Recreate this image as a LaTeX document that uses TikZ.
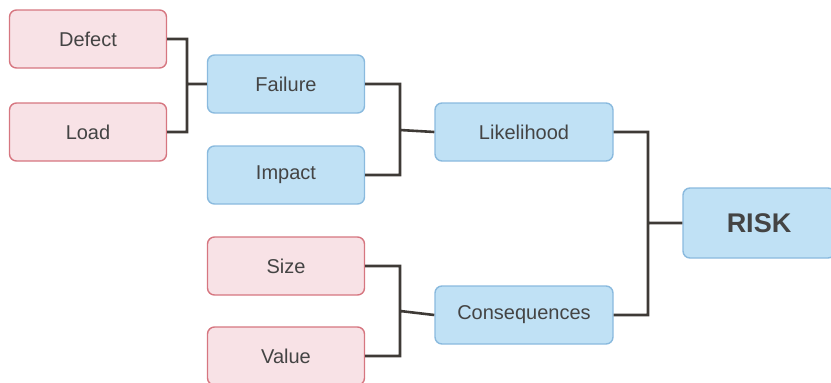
\documentclass[tikz,border=0pt]{standalone}
\usepackage{fontspec}
\setmainfont{Liberation Sans}
\usetikzlibrary{positioning}
\definecolor{causefill}{RGB}{248,226,230}
\definecolor{causeline}{RGB}{214,118,128}
\definecolor{effectfill}{RGB}{192,225,245}
\definecolor{effectline}{RGB}{138,186,222}
\definecolor{labelgray}{RGB}{68,68,68}
\definecolor{linkgray}{RGB}{62,58,54}
\begin{document}
\begin{tikzpicture}
        [x = 1pt, y = -1pt,
            semithick,
            cause node/.style = {rectangle, rounded corners=7pt, draw=causeline, fill=causefill,
                line width=1.4pt, minimum width=157pt, minimum height=58pt,
                text=labelgray, font=\fontsize{20}{24}\selectfont},
            effect node/.style = {cause node, draw=effectline, fill=effectfill},
            link/.style = {draw=linkgray, line width=2.6pt}]

        \useasboundingbox (0,0) rectangle (831,383);

        % left column
        \node[cause node] (defect) at (88,39) {Defect};
        \node[cause node] (load) at (88,132) {Load};
        \node[effect node] (failure) at (286,84) {Failure};
        \node[effect node] (impact) at (286,175) {Impact};
        \node[cause node] (size) at (286,266) {Size};
        \node[cause node] (value) at (286,356) {Value};

        % middle and right
        \node[effect node, minimum width=178pt] (likelihood) at (524,132) {Likelihood};
        \node[effect node, minimum width=178pt] (consequences) at (524,315) {Consequences};
        \node[effect node, minimum width=152pt, minimum height=70pt,
            font=\fontsize{27}{30}\selectfont\bfseries] (risk) at (759,223) {RISK};

        \coordinate (j1) at (187,84);
        \coordinate (j2) at (400,130);
        \coordinate (j3) at (400,311);
        \coordinate (j4) at (648,223);

        \path[link]
        (defect.east) -| (j1) |- (load.east)
        (j1) -- (failure.west)
        (failure.east) -| (j2) |- (impact.east)
        (j2) -- (likelihood.west)
        (size.east) -| (j3) |- (value.east)
        (j3) -- (consequences.west)
        (likelihood.east) -| (j4) |- (consequences.east)
        (j4) -- (risk.west);
    \end{tikzpicture}
\end{document}
